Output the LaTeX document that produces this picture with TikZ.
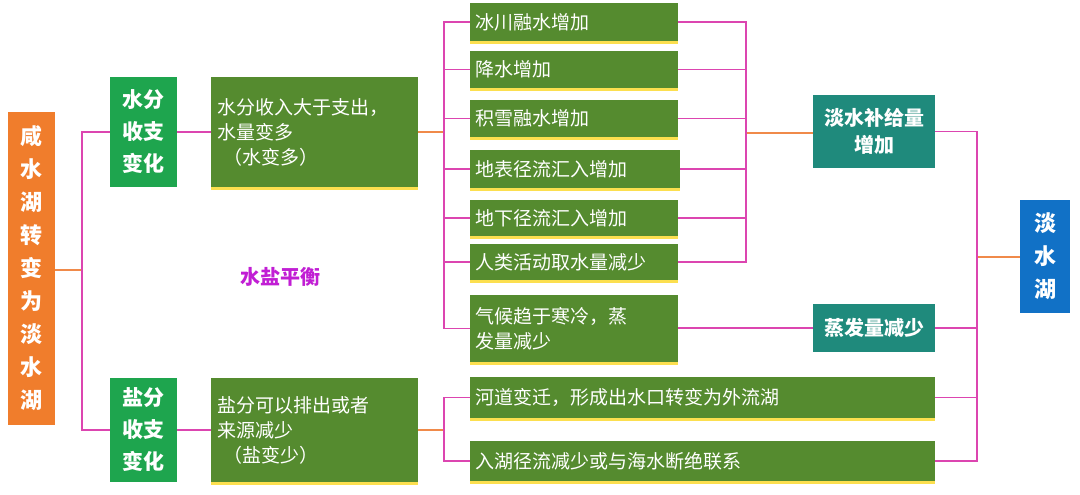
\documentclass[tikz,border=0pt]{standalone}
\usepackage{fontspec}
\setmainfont{Noto Sans CJK SC}
\usetikzlibrary{shadows}
\definecolor{olive}{HTML}{558B2F}
\definecolor{gr}{HTML}{1EA54E}
\definecolor{og}{HTML}{F07D2C}
\definecolor{tl}{HTML}{1F8A7C}
\definecolor{bl}{HTML}{1171C6}
\definecolor{pk}{HTML}{DC45B0}
\definecolor{os}{HTML}{F08A4A}
\definecolor{mg}{HTML}{C11ED4}
\begin{document}
\begin{tikzpicture}[x=1pt,y=-1pt,
  base/.style={draw=none,text=white,inner sep=0pt,anchor=center},
  olv/.style={base,fill=olive,font=\fontsize{19}{25}\selectfont,align=left,
    drop shadow={shadow xshift=0pt,shadow yshift=-3pt,fill=yellow!70!orange,opacity=0.7}},
  bld/.style={base,font=\bfseries\fontsize{20}{27}\selectfont,align=center},
  pkl/.style={draw=pk,line width=1.3pt},
  osl/.style={draw=os,line width=1.3pt}]
\useasboundingbox (0,0) rectangle (1080,495);
\fill[white] (0,0) rectangle (1080,495);
% nodes
\node[bld,fill=og,minimum width=47,minimum height=313,font=\bfseries\fontsize{22}{33}\selectfont] (root) at (31.5,268.5) {咸\\水\\湖\\转\\变\\为\\淡\\水\\湖};
\node[bld,fill=gr,minimum width=67,minimum height=110,font=\bfseries\fontsize{21}{32}\selectfont] (sf) at (143.5,132) {水分\\收支\\变化};
\node[bld,fill=gr,minimum width=67,minimum height=104,font=\bfseries\fontsize{21}{32}\selectfont] (yf) at (143.5,430) {盐分\\收支\\变化};
\node[olv,minimum width=207,minimum height=110,text width=195] (sd) at (314.5,132) {水分收入大于支出，\\水量变多\\\ （水变多）};
\node[olv,minimum width=207,minimum height=104,text width=195] (yd) at (314.5,430) {盐分可以排出或者\\来源减少\\\ （盐变少）};
\node[olv,minimum width=208,minimum height=38,text width=198] (i1) at (574,22) {冰川融水增加};
\node[olv,minimum width=208,minimum height=37,text width=198] (i2) at (574,69.5) {降水增加};
\node[olv,minimum width=208,minimum height=37,text width=198] (i3) at (574,118.5) {积雪融水增加};
\node[olv,minimum width=210,minimum height=38,text width=200] (i4) at (575,169) {地表径流汇入增加};
\node[olv,minimum width=208,minimum height=36,text width=198] (i5) at (574,218) {地下径流汇入增加};
\node[olv,minimum width=208,minimum height=36,text width=198] (i6) at (574,262) {人类活动取水量减少};
\node[olv,minimum width=208,minimum height=67,text width=198] (i7) at (574,328.5) {气候趋于寒冷，蒸\\发量减少};
\node[olv,minimum width=465,minimum height=41,text width=455] (i8) at (702.5,397.5) {河道变迁，形成出水口转变为外流湖};
\node[olv,minimum width=465,minimum height=40,text width=455] (i9) at (702.5,461) {入湖径流减少或与海水断绝联系};
\node[bld,fill=tl,minimum width=122,minimum height=73] (dq) at (874,131.5) {淡水补给量\\增加};
\node[bld,fill=tl,minimum width=122,minimum height=48] (zf) at (874,328) {蒸发量减少};
\node[bld,fill=bl,minimum width=50,minimum height=113,font=\bfseries\fontsize{22}{33}\selectfont] (dl) at (1045,256.5) {淡\\水\\湖};
\node[font=\bfseries\fontsize{20}{24}\selectfont,text=mg] (title) at (280,277) {水盐平衡};
% connectors
\coordinate (b1) at (82,270);
\draw[osl] (root.east |- b1) -- (b1);
\draw[pkl] (sf.west) -| (b1) |- (yf.west);
\draw[pkl] (sf.east) -- (sd.west);
\draw[pkl] (yf.east) -- (yd.west);
\coordinate (b2) at (444,132);
\draw[osl] (sd.east) -- (b2);
\draw[pkl] (i1.west) -| (b2);
\draw[pkl] (b2) |- (i7.west);
\foreach \n in {i2,i3,i4,i5,i6} \draw[pkl] (\n.west) -- (\n.west -| b2);
\coordinate (b3) at (444,430);
\draw[osl] (yd.east) -- (b3);
\draw[pkl] (i8.west) -| (b3) |- (i9.west);
\coordinate (b4) at (746,133);
\draw[osl] (b4) -- (dq.west |- b4);
\draw[pkl] (i1.east) -| (b4) |- (i6.east);
\foreach \n in {i2,i3,i4,i5} \draw[pkl] (\n.east) -- (\n.east -| b4);
\draw[pkl] (i7.east |- zf.west) -- (zf.west);
\coordinate (b5) at (977,257);
\draw[osl] (b5) -- (dl.west |- b5);
\draw[pkl] (dq.east) -| (b5) |- (i9.east);
\draw[pkl] (zf.east) -- (zf.east -| b5);
\draw[pkl] (i8.east) -- (i8.east -| b5);
\end{tikzpicture}
\end{document}
